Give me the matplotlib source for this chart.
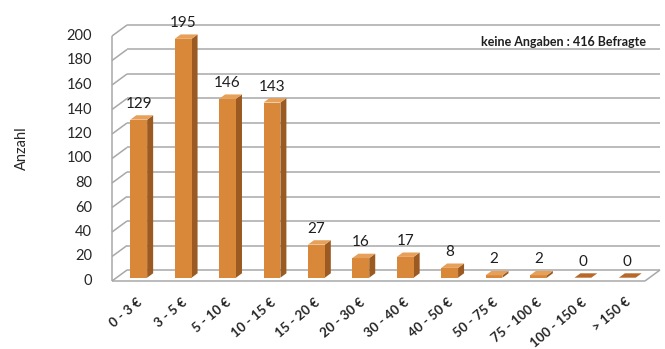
import matplotlib
matplotlib.use("Agg")
import matplotlib.pyplot as plt
from matplotlib.patches import Polygon

plt.rcParams['font.family'] = ['Lato', 'DejaVu Sans']

# Data
categories = ["0 - 3 €", "3 - 5 €", "5 - 10 €", "10 - 15 €", "15 - 20 €", "20 - 30 €",
              "30 - 40 €", "40 - 50 €", "50 - 75 €", "75 - 100 €", "100 - 150 €", "> 150 €"]
counts = [129, 195, 146, 143, 27, 16, 17, 8, 2, 2, 0, 0]
yticks = list(range(0, 201, 20))
note = "keine Angaben : 416 Befragte"
ylabel = "Anzahl"

# Style
FRONT = "#D9883A"
SIDE = "#9A5A22"
TOP = "#E6A05A"
GRID = "#A8A8A8"
TXT = "#262626"

W, H, DPI = 665, 349, 100
fig = plt.figure(figsize=(W / DPI, H / DPI), dpi=DPI)
ax = fig.add_axes([112 / W, 68 / H, 533 / W, 245 / H])
n = len(categories)
ax.set_xlim(-0.5, n - 0.5)
ax.set_ylim(0, 200)
ax.axis("off")

# depth of the pseudo-3D box, in pixels, converted to data units
depth_px_x, depth_px_y = 15.0, 11.0
ax_w_px = ax.get_position().width * W
ax_h_px = ax.get_position().height * H
DX = depth_px_x / (ax_w_px / n)
DY = depth_px_y / (ax_h_px / 200.0)

x0, x1 = -0.5, n - 0.5
lk = dict(color=GRID, lw=1.1, clip_on=False, solid_capstyle="butt")

# back wall gridlines and left wall diagonals
for v in yticks:
    ax.plot([x0 + DX, x1 + DX], [v + DY, v + DY], **lk)
    ax.plot([x0, x0 + DX], [v, v + DY], **lk)
# left wall front edge and floor outline
ax.plot([x0, x0], [0, 200], **lk)
ax.plot([x0, x1], [0, 0], **lk)
ax.plot([x1, x1 + DX], [0, DY], **lk)

# y tick labels at the front plane
for v in yticks:
    ax.annotate(str(v), (x0, v), xytext=(-20, 0), textcoords="offset pixels",
                ha="right", va="center", fontsize=10.5, color=TXT, annotation_clip=False)

# bars
d0, d1 = 0.3, 0.7
hw = 0.19
for i, v in enumerate(counts):
    fx0 = i - hw + d0 * DX
    fx1 = i + hw + d0 * DX
    fy0 = d0 * DY
    bx0 = i - hw + d1 * DX
    bx1 = i + hw + d1 * DX
    by0 = d1 * DY
    front = [(fx0, fy0), (fx1, fy0), (fx1, fy0 + v), (fx0, fy0 + v)]
    side = [(fx1, fy0), (bx1, by0), (bx1, by0 + v), (fx1, fy0 + v)]
    top = [(fx0, fy0 + v), (fx1, fy0 + v), (bx1, by0 + v), (bx0, by0 + v)]
    ax.add_patch(Polygon(side, closed=True, fc=SIDE, ec="none", clip_on=False, zorder=3))
    ax.add_patch(Polygon(front, closed=True, fc=FRONT, ec="none", clip_on=False, zorder=3))
    ax.add_patch(Polygon(top, closed=True, fc=TOP if v > 0 else "#B8692A",
                         ec="none", clip_on=False, zorder=3))
    ax.annotate(str(v), (i + d0 * DX, fy0 + v), xytext=(0, 16), textcoords="offset pixels",
                ha="center", va="center", fontsize=11, color="#1e1e1e",
                annotation_clip=False, zorder=4)
    ax.annotate(categories[i], (i + d0 * DX, 0), xytext=(-2, -15), textcoords="offset pixels",
                ha="right", va="top", rotation=40, rotation_mode="anchor",
                fontsize=9.5, fontweight="bold", color=TXT, annotation_clip=False)

# note and axis title
ax.annotate(note, (x1 + DX, 200 + DY), xytext=(-14, -17), textcoords="offset pixels",
            ha="right", va="center", fontsize=9, color="#1e1e1e", fontweight="bold",
            annotation_clip=False)
fig.text(22 / W, 1 - 148 / H, ylabel, rotation=90, ha="center", va="center",
         fontsize=10.5, color=TXT)

fig.savefig("out.png", dpi=DPI)
